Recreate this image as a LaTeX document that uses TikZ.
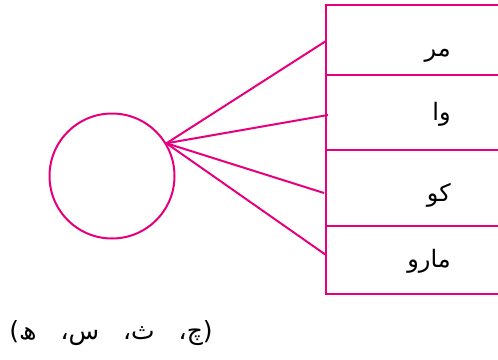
\documentclass[tikz,border=0pt]{standalone}
\usepackage{fontspec}
\newfontfamily\urdufont[Script=Arabic]{DejaVu Sans}
\TeXXeTstate=1
\definecolor{pinkline}{RGB}{230,0,126}

\begin{document}
\begin{tikzpicture}[x=1pt,y=-1pt,line width=2pt,
    word/.style={anchor=east,font=\urdufont\fontsize{24}{28}\selectfont}]
    \useasboundingbox (0,0) rectangle (498,359);
    % circle and the point where the lines meet
    \node[draw=pinkline,circle,minimum size=125pt,inner sep=0pt] (ball) at (112,176) {};
    \coordinate (tip) at (ball.31);
    % table
    \draw[pinkline] (498,4.5) -| (326,294) -- (498,294);
    \draw[pinkline] (326,75) -- (498,75);
    \draw[pinkline] (326,150) -- (498,150);
    \draw[pinkline] (326,226) -- (498,226);
    % words
    \node[word] (w1) at (455,56) {\beginR مر\endR};
    \node[word] (w2) at (455,114) {\beginR وا\endR};
    \node[word] (w3) at (455,195) {\beginR کو\endR};
    \node[word] (w4) at (455,261) {\beginR مارو\endR};
    % lines
    \coordinate (e1) at (326,41);
    \coordinate (e2) at (328,115);
    \coordinate (e3) at (324,193);
    \coordinate (e4) at (326,255);
    \foreach \e in {e1,e2,e3,e4}
        \draw[pinkline] (tip) -- (\e);
    \node[anchor=west,font=\urdufont\fontsize{25}{28}\selectfont] (letters) at (5,333)
        {\beginR (چ،\hspace{24pt}ث،\hspace{24pt}س،\hspace{24pt}ھ)\endR};
\end{tikzpicture}
\end{document}
